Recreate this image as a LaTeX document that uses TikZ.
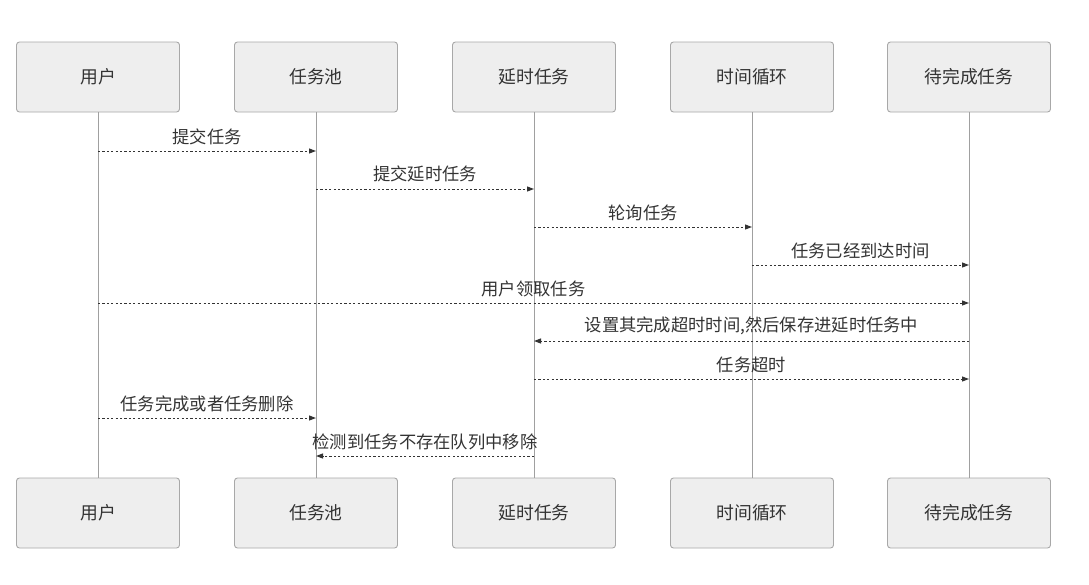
\documentclass[tikz,border=0pt]{standalone}
\usepackage{fontspec}
\setmainfont{Noto Sans CJK SC}
\usetikzlibrary{arrows.meta}
\definecolor{boxfill}{HTML}{EEEEEE}
\definecolor{boxline}{HTML}{A8A8A8}
\definecolor{txt}{HTML}{333333}
\definecolor{life}{HTML}{A0A0A0}
\begin{document}
\begin{tikzpicture}[x=1pt,y=-1pt,
  actor/.style={draw=boxline,fill=boxfill,rounded corners=3pt,minimum width=163pt,minimum height=70pt,inner sep=0pt,text=txt,font=\fontsize{17.8}{20}\selectfont,line width=0.9pt},
  lifeline/.style={draw=life,line width=0.8pt},
  msg/.style={draw=txt,line width=1pt,dash pattern=on 2.2pt off 2.2pt,-{Triangle[length=7pt,width=5pt]}},
  lbl/.style={text=txt,font=\fontsize{17.3}{19}\selectfont,inner sep=0pt}]
\useasboundingbox (0,0) rectangle (1089,584);
\fill[white] (0,0) rectangle (1089,584);
% top actors
\node[actor] (t1) at (98,77) {用户};
\node[actor] (t2) at (316,77) {任务池};
\node[actor] (t3) at (534,77) {延时任务};
\node[actor] (t4) at (752,77) {时间循环};
\node[actor] (t5) at (969,77) {待完成任务};
% bottom actors
\node[actor] (b1) at (98,513) {用户};
\node[actor] (b2) at (316,513) {任务池};
\node[actor] (b3) at (534,513) {延时任务};
\node[actor] (b4) at (752,513) {时间循环};
\node[actor] (b5) at (969,513) {待完成任务};
% lifelines
\foreach \i in {1,...,5} \draw[lifeline] (t\i.south) -- (b\i.north);
% message coordinates
\foreach \i/\x in {1/98,2/316,3/534,4/752,5/969} {
  \foreach \j/\y in {a/151,b/189,c/227,d/265,e/303,f/341,g/379,h/418,k/456} {
    \coordinate (m\i\j) at (\x,\y);
  }
}
\draw[msg] (m1a) -- node[lbl,above=6pt] {提交任务} (m2a);
\draw[msg] (m2b) -- node[lbl,above=6pt] {提交延时任务} (m3b);
\draw[msg] (m3c) -- node[lbl,above=6pt] {轮询任务} (m4c);
\draw[msg] (m4d) -- node[lbl,above=6pt] {任务已经到达时间} (m5d);
\draw[msg] (m1e) -- node[lbl,above=6pt] {用户领取任务} (m5e);
\draw[msg] (m5f) -- node[lbl,above=6pt] {设置其完成超时时间,然后保存进延时任务中} (m3f);
\draw[msg] (m3g) -- node[lbl,above=6pt] {任务超时} (m5g);
\draw[msg] (m1h) -- node[lbl,above=6pt] {任务完成或者任务删除} (m2h);
\draw[msg] (m3k) -- node[lbl,above=6pt] {检测到任务不存在队列中移除} (m2k);
\end{tikzpicture}
\end{document}
